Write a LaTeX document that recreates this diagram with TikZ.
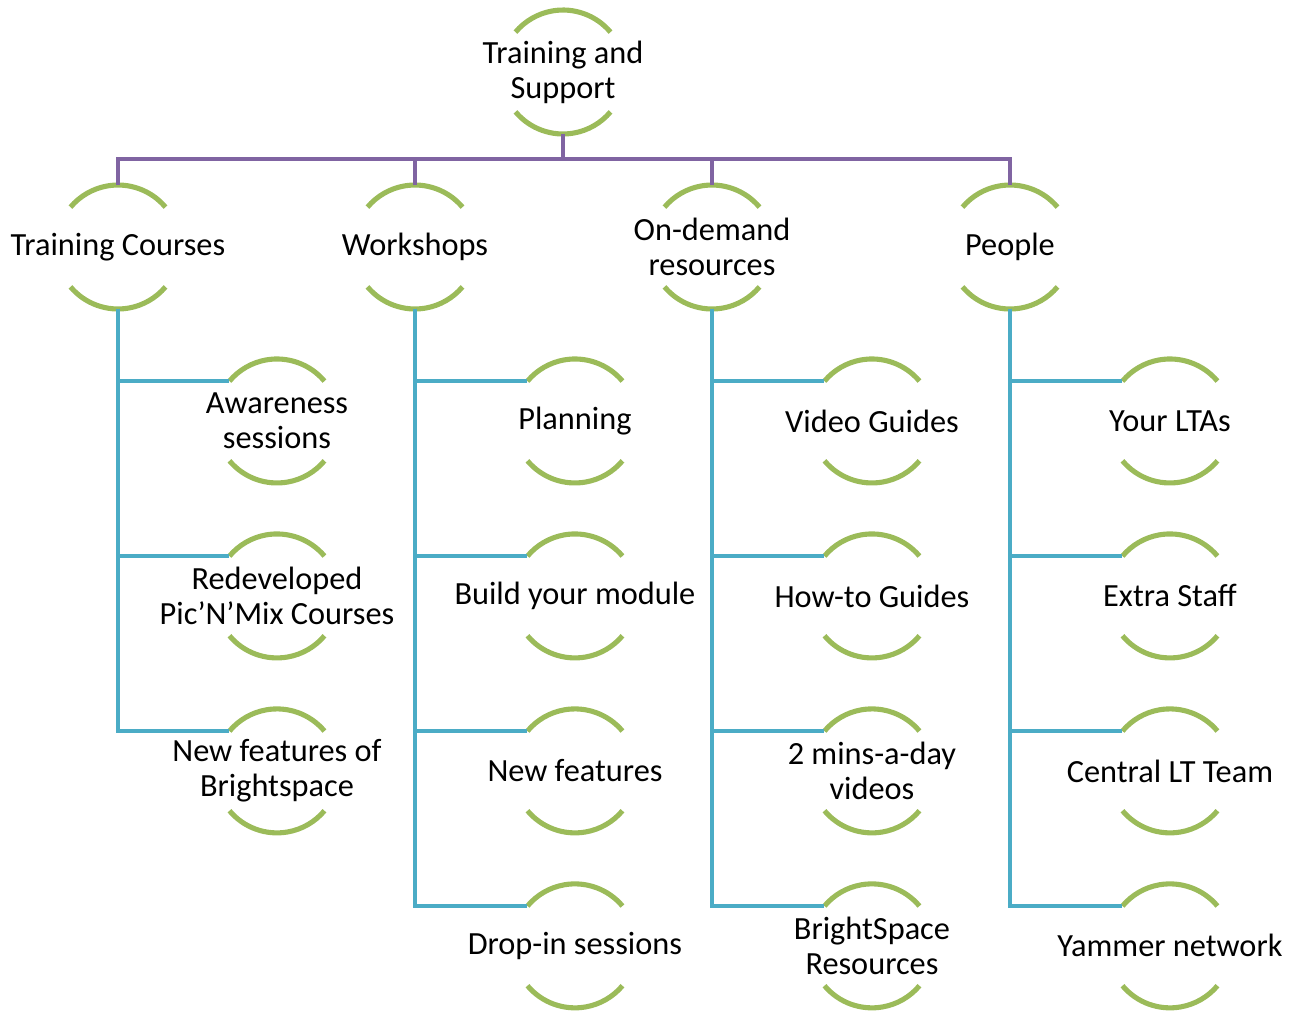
\documentclass[tikz,border=0pt]{standalone}
\usepackage{fontspec}
\setmainfont{Carlito}
\usetikzlibrary{calc,positioning}
\definecolor{ringgreen}{HTML}{9BBB59}
\definecolor{buspurple}{HTML}{8064A2}
\definecolor{branchblue}{HTML}{4BACC6}

\begin{document}
\begin{tikzpicture}[x=0.02cm,y=-0.02cm,on grid]
	\tikzstyle{item} = [align=center, inner sep=0pt, font=\fontsize{18.4}{20}\selectfont]
	\tikzstyle{arcline} = [draw=ringgreen, line width=2.9pt]
	\tikzstyle{bus} = [draw=buspurple, line width=2.6pt]
	\tikzstyle{branch} = [draw=branchblue, line width=2.6pt]

	\useasboundingbox (0,0) rectangle (1289,1011);

	\node [item] (root) at (563,72) {Training and\\Support};
	\node [item] (tc) at (118,247) {Training Courses};
	\node [item] (ws) at (415,247) {Workshops};
	\node [item] (od) at (712,247) {On-demand\\resources};
	\node [item] (pp) at (1010,247) {People};
	\coordinate (busmid) at (563,159);

	% training courses
	\node [item, below right = 3.48cm and 3.18cm of tc] (aw) {Awareness\\sessions};
	\node [item, below = 3.5cm of aw] (rd) {Redeveloped\\Pic’N’Mix Courses};
	\node [item, below = 3.5cm of rd] (nf) {New features of\\Brightspace};

	% workshops
	\node [item, below right = 3.48cm and 3.2cm of ws] (pl) {Planning};
	\node [item, below = 3.5cm of pl] (bm) {Build your module};
	\node [item, below = 3.5cm of bm] (nw) {New features};
	\node [item, below = 3.5cm of nw] (di) {Drop-in sessions};

	% on-demand resources
	\node [item, below right = 3.48cm and 3.2cm of od] (vg) {Video Guides};
	\node [item, below = 3.5cm of vg] (ht) {How-to Guides};
	\node [item, below = 3.5cm of ht] (tm) {2 mins-a-day\\videos};
	\node [item, below = 3.5cm of tm] (bs) {BrightSpace\\Resources};

	% people
	\node [item, below right = 3.48cm and 3.2cm of pp] (lt) {Your LTAs};
	\node [item, below = 3.5cm of lt] (es) {Extra Staff};
	\node [item, below = 3.5cm of es] (cl) {Central LT Team};
	\node [item, below = 3.5cm of cl] (yn) {Yammer network};

	\foreach \n in {root,tc,ws,od,pp,aw,rd,nf,pl,bm,nw,di,vg,ht,tm,bs,lt,es,cl,yn}
		\draw [arcline] (\n.center) ++(40:1.24cm) arc[start angle=40, end angle=140, radius=1.24cm]
			(\n.center) ++(220:1.24cm) arc[start angle=220, end angle=320, radius=1.24cm];

	\draw [bus] ($(root)+(270:1.24cm)$) -- (busmid);
	\draw [bus] ($(tc)+(90:1.24cm)$) -- (tc |- busmid) -- (pp |- busmid) -- ($(pp)+(90:1.24cm)$);
	\draw [bus] ($(ws)+(90:1.24cm)$) -- (ws |- busmid);
	\draw [bus] ($(od)+(90:1.24cm)$) -- (od |- busmid);

	\foreach \c in {aw,rd,nf}
		\draw [branch] ($(tc)+(270:1.24cm)$) |- ($(\c)+(140:1.24cm)$);
	\foreach \c in {pl,bm,nw,di}
		\draw [branch] ($(ws)+(270:1.24cm)$) |- ($(\c)+(140:1.24cm)$);
	\foreach \c in {vg,ht,tm,bs}
		\draw [branch] ($(od)+(270:1.24cm)$) |- ($(\c)+(140:1.24cm)$);
	\foreach \c in {lt,es,cl,yn}
		\draw [branch] ($(pp)+(270:1.24cm)$) |- ($(\c)+(140:1.24cm)$);
\end{tikzpicture}
\end{document}
